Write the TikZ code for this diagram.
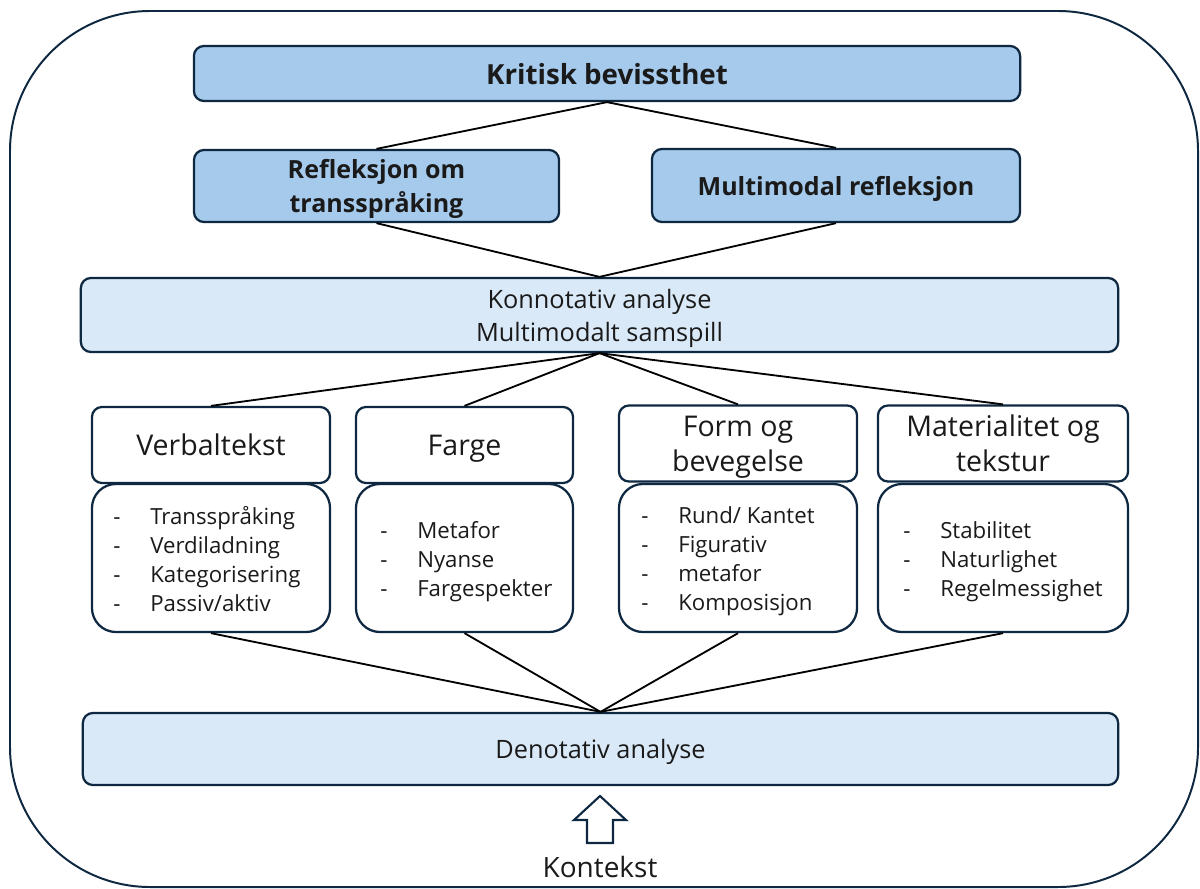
\documentclass[tikz,border=0pt]{standalone}
\usepackage{fontspec}
\setmainfont{Open Sans}
\definecolor{navy}{HTML}{0E2841}
\definecolor{darkfill}{HTML}{A6CAEC}
\definecolor{lightfill}{HTML}{DAE9F7}
\definecolor{txt}{HTML}{1A1A1A}
\newcommand{\dash}{\makebox[0.925cm][l]{-}}
\begin{document}
\begin{tikzpicture}[x=0.025cm,y=-0.025cm,
  box/.style={draw=navy, line width=1.6pt, rounded corners=0.25cm, inner sep=0pt, align=center, text=txt, text depth=-2pt},
  darkbox/.style={box, fill=darkfill, font=\bfseries\fontsize{17.8}{24.5}\selectfont},
  lightbox/.style={box, fill=lightfill, font=\fontsize{18}{23.6}\selectfont},
  catbox/.style={box, fill=white, minimum height=1.9cm, font=\fontsize{20.3}{25}\selectfont},
  listbox/.style={box, fill=white, rounded corners=0.6cm, minimum height=3.7cm},
  listtext/.style={anchor=west, align=left, inner sep=0pt, text=txt, font=\fontsize{15.8}{20.6}\selectfont},
  link/.style={line width=1.3pt, black}
]
\useasboundingbox (0,0) rectangle (1200,888);
\draw[navy, line width=1.4pt, rounded corners=3.5cm] (10,11) rectangle (1198,887);

\node[darkbox, minimum width=20.65cm, minimum height=1.375cm, font=\bfseries\fontsize{19.7}{24}\selectfont] (krit) at (607,73.5) {Kritisk bevissthet};
\node[darkbox, minimum width=9.125cm, minimum height=1.8cm] (refl) at (376.5,186) {Refleksjon om\\transspråking};
\node[darkbox, minimum width=9.2cm, minimum height=1.825cm] (mmr) at (836,185.5) {Multimodal refleksjon};
\node[lightbox, minimum width=25.925cm, minimum height=1.85cm] (konn) at (599.5,315) {Konnotativ analyse\\Multimodalt samspill};

\node[catbox, minimum width=5.95cm] (verb) at (211,445) {Verbaltekst};
\node[catbox, minimum width=5.425cm] (farge) at (464.5,445) {Farge};
\node[catbox, minimum width=5.95cm] (form) at (738,443.5) {Form og\\bevegelse};
\node[catbox, minimum width=6.25cm] (mat) at (1003,443.5) {Materialitet og\\tekstur};

\node[listbox, minimum width=5.95cm] (verbl) at (211,558) {};
\node[listbox, minimum width=5.425cm] (fargel) at (464.5,558) {};
\node[listbox, minimum width=5.95cm] (forml) at (738,558) {};
\node[listbox, minimum width=6.25cm] (matl) at (1003,558) {};

\node[listtext] (verbt) at (113,559) {\dash Transspråking\\\dash Verdiladning\\\dash Kategorisering\\\dash Passiv/aktiv};
\node[listtext] (farget) at (380,561.5) {\dash Metafor\\\dash Nyanse\\\dash Fargespekter};
\node[listtext] (formt) at (641,561.5) {\dash Rund/ Kantet\\\dash Figurativ\\\dash metafor\\\dash Komposisjon};
\node[listtext] (matt) at (903,561.5) {\dash Stabilitet\\\dash Naturlighet\\\dash Regelmessighet};

\node[lightbox, minimum width=25.875cm, minimum height=1.8cm] (deno) at (600.5,749) {Denotativ analyse};

\draw[navy, line width=1.5pt, fill=white] (587,843) -- (587,820) -- (574,820) -- (600,796) -- (626,820) -- (613,820) -- (613,843) -- cycle;
\node[text=txt, font=\fontsize{19.9}{22}\selectfont, inner sep=0pt] (kont) at (600,867) {Kontekst};

\draw[link] (krit.south) -- (refl.north);
\draw[link] (krit.south) -- (mmr.north);
\draw[link] (refl.south) -- (konn.north);
\draw[link] (mmr.south) -- (konn.north);
\foreach \n in {verb,farge,form,mat} \draw[link] (konn.south) -- (\n.north);
\foreach \n in {verbl,fargel,forml,matl} \draw[link] (\n.south) -- (deno.north);
\end{tikzpicture}
\end{document}
